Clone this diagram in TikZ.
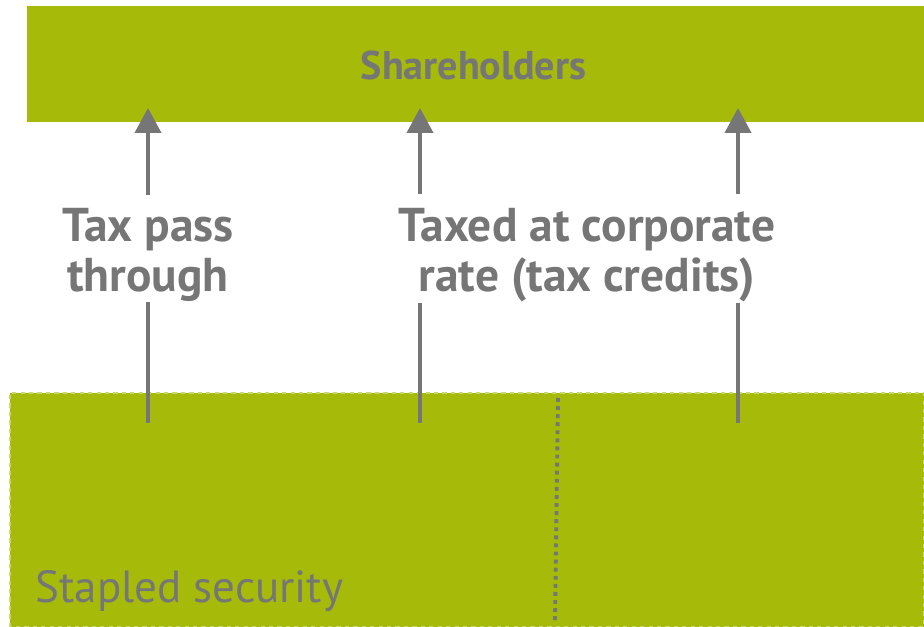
\documentclass[tikz,border=0pt]{standalone}
\usepackage{fontspec}
\setmainfont{PT Sans}
\usetikzlibrary{arrows.meta}

\definecolor{barGreen}{RGB}{166,186,10}
\definecolor{edgeGreen}{RGB}{200,215,110}
\definecolor{txtGray}{RGB}{118,118,118}

\tikzset{
    flow/.style={line width=1.15pt, draw=txtGray},
    flowtip/.style={flow, shorten <=0.13cm, -{Triangle[width=0.26cm, length=0.25cm]}},
    taxlabel/.style={text=txtGray, font=\fontsize{13.5}{14.3}\selectfont\bfseries, align=center, inner sep=0pt}
}

\begin{document}
\begin{tikzpicture}
    \useasboundingbox (0,0) rectangle (9.24,6.27);

    % Bars
    \fill[barGreen] (0.27,5.05) rectangle (9.24,6.21);
    \node[text=txtGray, font=\fontsize{11.4}{13}\selectfont\bfseries] (share) at (4.735,5.62) {Shareholders};

    \fill[barGreen] (0.10,0) rectangle (9.24,2.34);
    \draw[edgeGreen, line width=0.5pt, dash pattern=on 1.2pt off 1.2pt] (0.10,0) rectangle (9.24,2.34);
    \node[text=txtGray, font=\fontsize{12.8}{14}\selectfont, anchor=base west, inner sep=0pt] (staple) at (0.35,0.24) {Stapled security};

    % Divider
    \coordinate (D1) at (5.58,2.29);
    \coordinate (D2) at (5.55,0.05);
    \draw[txtGray, line width=1.1pt, dash pattern=on 1.1pt off 1.2pt] (D1) -- (D2);

    % Arrow ends
    \coordinate (B1) at (1.48,2.04);
    \coordinate (B2) at (4.20,2.04);
    \coordinate (B3) at (7.38,2.04);
    \coordinate (T1) at (1.48,5.19);
    \coordinate (T2) at (4.20,5.19);
    \coordinate (T3) at (7.38,5.19);

    % labels
    \node[taxlabel] (pass) at (1.48,3.72) {Tax pass\\through};
    \node[taxlabel] (corp) at (5.87,3.72) {Taxed at corporate\\rate (tax credits)};

    % Arrows
    \draw[flow] (B1) -- (B1 |- pass.south);
    \draw[flowtip] (B1 |- pass.north) -- (T1);
    \draw[flow] (B2) -- (B2 |- corp.south);
    \draw[flowtip] (B2 |- corp.north) -- (T2);
    \draw[flow] (B3) -- (B3 |- corp.south);
    \draw[flowtip] (B3 |- corp.north) -- (T3);

\end{tikzpicture}
\end{document}
